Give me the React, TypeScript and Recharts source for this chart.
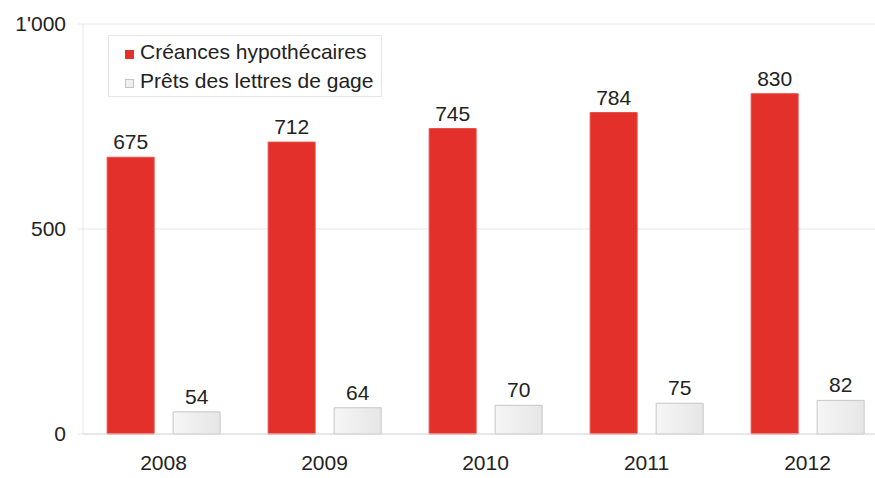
import React from 'react';
import { BarChart, Bar, XAxis, YAxis, CartesianGrid, LabelList } from 'recharts';

const years = ['2008', '2009', '2010', '2011', '2012'];
const creances = [675, 712, 745, 784, 830];
const prets = [54, 64, 70, 75, 82];
const yTicks = [0, 500, 1000];

const data = years.map((year, i) => ({ year, creances: creances[i], prets: prets[i] }));

const FONT = '"Liberation Sans", Arial, sans-serif';
const FS = 21;

const fmtY = (v: number) => (v === 1000 ? "1'000" : String(v));

function ChartLegend() {
  const items = [
    { label: 'Créances hypothécaires', fill: '#e3302b', stroke: '#e3302b' },
    { label: 'Prêts des lettres de gage', fill: '#f0f0f0', stroke: '#c4c4c4' },
  ];
  return (
    <div
      style={{
        position: 'absolute',
        left: 108,
        top: 35,
        background: '#fff',
        border: '1px solid #e6e6e6',
        padding: '1px 8px 1px 16px',
        fontFamily: FONT,
        fontSize: FS,
        color: '#222',
        lineHeight: '29px',
      }}
    >
      {items.map((it) => (
        <div key={it.label} style={{ display: 'flex', alignItems: 'center' }}>
          <span
            style={{
              display: 'inline-block',
              width: 7,
              height: 7,
              background: it.fill,
              border: `1px solid ${it.stroke}`,
              marginRight: 6,
              marginTop: 5,
            }}
          />
          {it.label}
        </div>
      ))}
    </div>
  );
}

export default function App() {
  return (
    <div style={{ position: 'absolute', left: 0, top: 0, width: 875, height: 478, overflow: 'hidden', background: '#fff' }}>
      <BarChart
        width={900}
        height={478}
        data={data}
        margin={{ top: 24, right: 12, bottom: 0, left: 0 }}
        barCategoryGap="15%"
        barGap={19}
      >
        <defs>
          <linearGradient id="greyGrad" x1="0" y1="0" x2="1" y2="0">
            <stop offset="0%" stopColor="#f6f6f6" />
            <stop offset="100%" stopColor="#e6e6e6" />
          </linearGradient>
        </defs>
        <CartesianGrid vertical={false} stroke="#e8e8e8" />
        <XAxis
          dataKey="year"
          axisLine={{ stroke: '#dcdcdc' }}
          tickLine={false}
          tickSize={0}
          tickMargin={21}
          height={44}
          tick={{ fontSize: FS, fill: '#222', fontFamily: FONT }}
        />
        <YAxis
          domain={[0, 1000]}
          ticks={yTicks}
          tickFormatter={fmtY}
          width={83}
          axisLine={{ stroke: '#e8e8e8' }}
          tickLine={{ stroke: '#e8e8e8' }}
          tickSize={5}
          tickMargin={12}
          tick={{ fontSize: FS, fill: '#222', fontFamily: FONT }}
        />
        <Bar dataKey="creances" fill="#e3302b" stroke="#e8504b" strokeWidth={1} isAnimationActive={false}>
          <LabelList dataKey="creances" position="top" offset={8} style={{ fontSize: FS, fill: '#222', fontFamily: FONT }} />
        </Bar>
        <Bar dataKey="prets" fill="url(#greyGrad)" stroke="#c6c6c6" strokeWidth={1} isAnimationActive={false}>
          <LabelList dataKey="prets" position="top" offset={8} style={{ fontSize: FS, fill: '#222', fontFamily: FONT }} />
        </Bar>
      </BarChart>
      <ChartLegend />
    </div>
  );
}
